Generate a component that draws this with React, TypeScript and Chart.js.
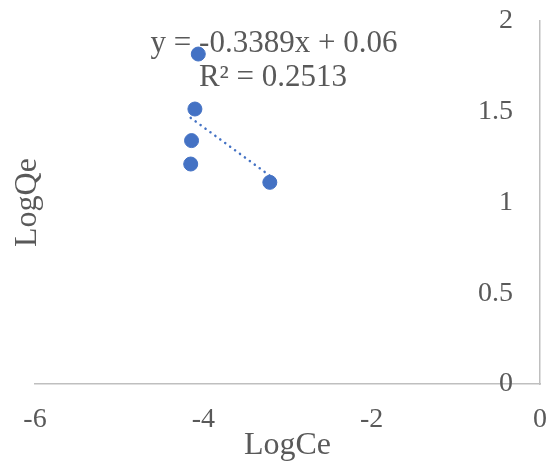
import { useEffect, useRef } from 'react';
import { Chart, registerables } from 'chart.js';

Chart.register(...registerables);

// values
const logCe = [-4.06, -4.1, -4.14, -4.15, -3.21];
const logQe = [1.818, 1.515, 1.341, 1.212, 1.111];

const slope = -0.3389;
const intercept = 0.06;
const equationLines = ['y = -0.3389x + 0.06', 'R² = 0.2513'];

const xTicks = [-6, -4, -2, 0];
const yTicks = [0, 0.5, 1, 1.5, 2];

const blue = '#4472C4';
const grey = '#595959';
const axisGrey = '#BFBFBF';
const serif = 'Liberation Serif';

const equationLabel = {
    id: 'equationLabel',
    afterDatasetsDraw(chart) {
        const ctx = chart.ctx;
        ctx.save();
        ctx.font = `31px "${serif}"`;
        ctx.fillStyle = grey;
        ctx.textAlign = 'center';
        ctx.textBaseline = 'middle';
        ctx.fillText(equationLines[0], 274, 44);
        ctx.fillText(equationLines[1], 273, 78);
        ctx.restore();
    }
};

// drop the label overhang so the plot box sits where the reference has it
const noPadding = (scale) => {
    scale.paddingLeft = 0;
    scale.paddingRight = 0;
    scale.paddingTop = 0;
    scale.paddingBottom = 0;
};

const App = () => {
    const chartRef = useRef(null);

    useEffect(() => {
        const ctx = chartRef.current.getContext('2d');
        const xMin = Math.min(...logCe);
        const xMax = Math.max(...logCe);
        const trend = [xMin, xMax].map((x) => ({ x, y: slope * x + intercept }));

        const myChart = new Chart(ctx, {
            type: 'scatter',
            data: {
                datasets: [
                    {
                        data: logCe.map((x, i) => ({ x, y: logQe[i] })),
                        backgroundColor: blue,
                        borderColor: blue,
                        pointRadius: 7,
                        pointHoverRadius: 7
                    },
                    {
                        type: 'line',
                        data: trend,
                        borderColor: blue,
                        borderWidth: 2.5,
                        borderDash: [0.1, 6],
                        borderCapStyle: 'round',
                        pointRadius: 0,
                        fill: false
                    }
                ]
            },
            options: {
                responsive: false,
                animation: false,
                layout: { padding: { top: 21, right: 8, bottom: 0, left: 0 } },
                plugins: { legend: { display: false }, tooltip: { enabled: false } },
                scales: {
                    x: {
                        type: 'linear',
                        position: 'bottom',
                        min: -6,
                        max: 0,
                        afterBuildTicks: (scale) => {
                            scale.ticks = xTicks.map((value) => ({ value }));
                        },
                        afterFit: (scale) => {
                            scale.height = 82;
                            noPadding(scale);
                        },
                        grid: { display: false, drawTicks: false },
                        border: { color: axisGrey, width: 1.5 },
                        ticks: {
                            color: grey,
                            padding: 19,
                            font: { family: serif, size: 28 },
                            callback: (v) => String(v)
                        },
                        title: {
                            display: true,
                            text: 'LogCe',
                            color: grey,
                            font: { family: serif, size: 32 },
                            padding: { bottom: 1 }
                        }
                    },
                    y: {
                        type: 'linear',
                        position: 'right',
                        min: 0,
                        max: 2,
                        afterBuildTicks: (scale) => {
                            scale.ticks = yTicks.map((value) => ({ value }));
                        },
                        afterFit: (scale) => {
                            scale.width = 0;
                            noPadding(scale);
                        },
                        grid: { display: false, drawTicks: false },
                        border: { color: axisGrey, width: 1.5 },
                        ticks: {
                            color: grey,
                            mirror: true,
                            padding: -27,
                            font: { family: serif, size: 28 },
                            callback: (v) => String(v)
                        }
                    },
                    yl: {
                        type: 'linear',
                        position: 'left',
                        afterFit: (scale) => {
                            scale.width = 35;
                            noPadding(scale);
                        },
                        grid: { display: false, drawTicks: false },
                        border: { display: false },
                        ticks: { display: false },
                        title: {
                            display: true,
                            text: 'LogQe',
                            color: grey,
                            font: { family: serif, size: 32 },
                            padding: { top: 8 }
                        }
                    }
                }
            },
            plugins: [equationLabel]
        });

        return () => {
            myChart.destroy();
        };
    }, []);

    return (
        <div style={{ position: 'fixed', left: 0, top: 0, width: 548, height: 466, background: '#fff' }}>
            <canvas ref={chartRef} width={548} height={466} />
        </div>
    );
};

export default App;
